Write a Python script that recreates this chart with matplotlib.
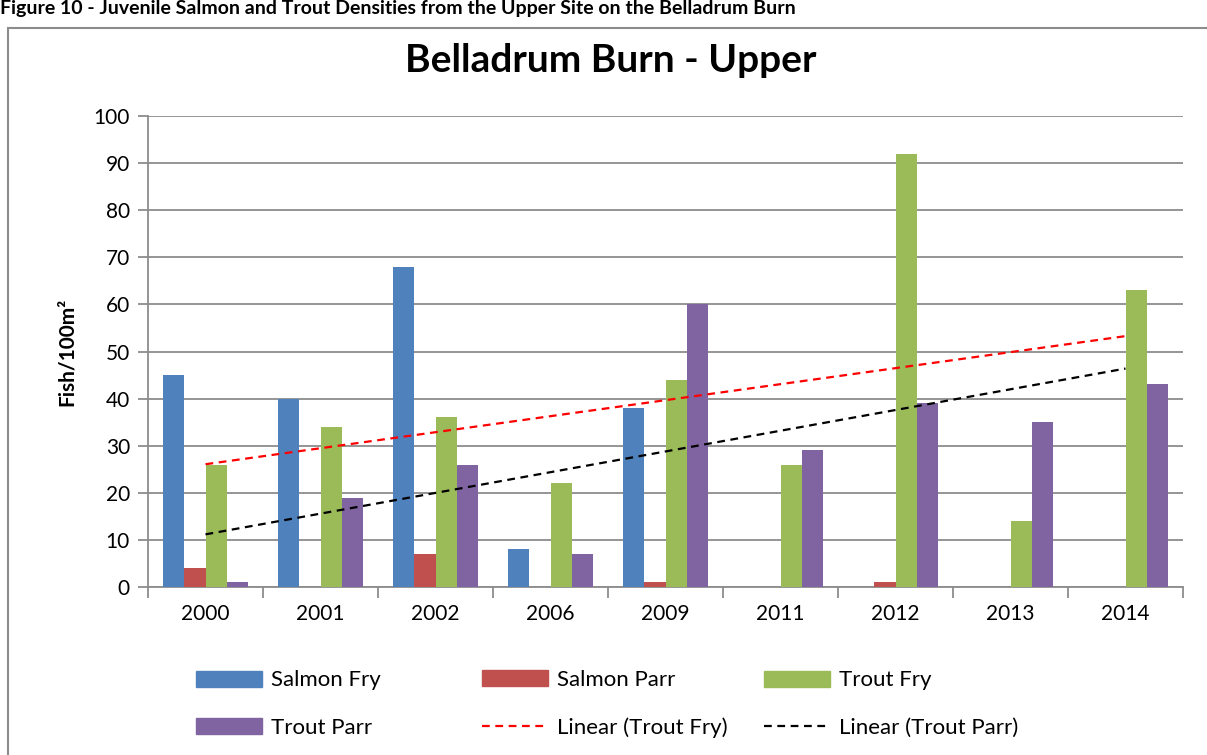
import numpy as np
import matplotlib
matplotlib.use("Agg")
import matplotlib.pyplot as plt
from matplotlib.patches import Rectangle, Patch
from matplotlib.lines import Line2D

years = ["2000", "2001", "2002", "2006", "2009", "2011", "2012", "2013", "2014"]
salmon_fry = [45, 40, 68, 8, 38, 0, 0, 0, 0]
salmon_parr = [4, 0, 7, 0, 1, 0, 1, 0, 0]
trout_fry = [26, 34, 36, 22, 44, 26, 92, 14, 63]
trout_parr = [1, 19, 26, 7, 60, 29, 39, 35, 43]

plt.rcParams['font.family'] = ['Lato', 'DejaVu Sans']

fig = plt.figure(figsize=(12.07, 7.55), dpi=100)
ax = fig.add_axes([148/1207, 1-587/755, (1183-148)/1207, (587-116)/755])

x = np.arange(len(years))
w = 0.183
cols = ["#4F81BD", "#C0504D", "#9BBB59", "#8064A2"]
series = [salmon_fry, salmon_parr, trout_fry, trout_parr]
for i, (s, c) in enumerate(zip(series, cols)):
    ax.bar(x + (i - 1.5) * w, s, w, color=c, zorder=3, edgecolor='none')

# linear trend lines (least squares fit of the series)
xi = np.arange(1, len(years) + 1)
pf = np.polyfit(xi, trout_fry, 1)
pp = np.polyfit(xi, trout_parr, 1)
dash = (0, (3.5, 2.5))
ax.plot(x, np.polyval(pf, xi), color="#FF0000", ls=dash, lw=1.6, zorder=4)
ax.plot(x, np.polyval(pp, xi), color="#000000", ls=dash, lw=1.6, zorder=4)

ax.set_xlim(-0.5, len(years) - 0.5)
ax.set_ylim(0, 100)
ax.set_yticks(range(0, 101, 10))
ax.yaxis.grid(True, color="#8C8C8C", lw=1.3, zorder=0)
ax.set_axisbelow(True)
ax.set_xticks(x)
ax.set_xticklabels(years, fontsize=15)
ax.set_xticks(np.arange(-0.5, len(years)), minor=True)
ax.tick_params(axis='x', which='major', length=0, pad=12)
ax.tick_params(axis='x', which='minor', length=8, color="#8C8C8C", width=1.3)
ax.tick_params(axis='y', length=7, color="#8C8C8C", width=1.3, labelsize=15, pad=6)
for sp in ['top', 'right']:
    ax.spines[sp].set_visible(False)
for sp in ['left', 'bottom']:
    ax.spines[sp].set_color("#8C8C8C")
    ax.spines[sp].set_linewidth(1.3)

ax.set_ylabel("Fish/100m²", fontsize=15, fontweight='bold', labelpad=12)
fig.text(611/1207, 1-60/755, "Belladrum Burn - Upper", fontsize=28, fontweight='bold',
         ha='center', va='center')

# caption above the chart box
fig.text(0.0, 1.0, "Figure 10 - Juvenile Salmon and Trout Densities from the Upper Site on the Belladrum Burn",
         fontsize=14, fontweight='bold', ha='left', va='top')

# outer border
fig.patches.append(Rectangle((8/1207, -0.05), 1.2, 1-28/755 + 0.05, transform=fig.transFigure,
                             fill=False, edgecolor="#8C8C8C", lw=1.5))

cols_legend = [
    ([Patch(color=cols[0]), Patch(color=cols[3])], ["Salmon Fry", "Trout Parr"], 196),
    ([Patch(color=cols[1]), Line2D([], [], color="#FF0000", ls=dash, lw=1.6)],
     ["Salmon Parr", "Linear (Trout Fry)"], 482),
    ([Patch(color=cols[2]), Line2D([], [], color="#000000", ls=dash, lw=1.6)],
     ["Trout Fry", "Linear (Trout Parr)"], 764),
]
for hs, ls_, xp in cols_legend:
    leg = fig.legend(hs, ls_, loc='center left', bbox_to_anchor=(xp/1207, 1-704/755),
                     frameon=False, fontsize=16, handlelength=2.97, handleheight=0.72,
                     labelspacing=1.22, handletextpad=0.4, borderpad=0, borderaxespad=0)

fig.savefig("out.png", dpi=100)
